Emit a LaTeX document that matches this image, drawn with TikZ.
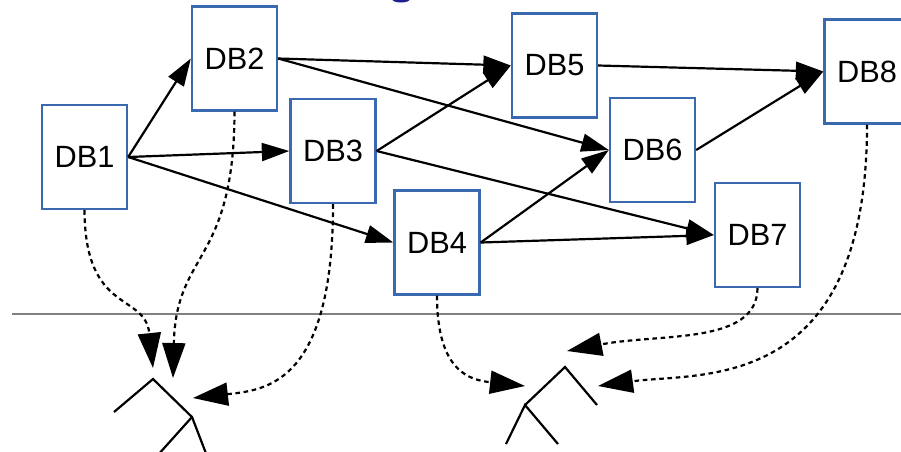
\documentclass[tikz,border=0pt]{standalone}
\usepackage{fontspec}
\setmainfont{Liberation Sans}
\usetikzlibrary{arrows.meta}

\definecolor{boxblue}{RGB}{58,105,176}
\definecolor{titleblue}{RGB}{30,30,140}

\begin{document}
\begin{tikzpicture}[x=0.02cm, y=-0.02cm,
    db/.style={draw=boxblue, line width=1.35pt, fill=white, minimum width=1.7cm,
        minimum height=2.08cm, inner sep=0pt, font=\fontsize{17.5}{21}\selectfont},
    dep/.style={-{Triangle[length=0.55cm, width=0.36cm]}, line width=1.25pt},
    rep/.style={-{Triangle[length=0.7cm, width=0.46cm]}, line width=1.25pt,
        dash pattern=on 2.6pt off 2.1pt},
    tree/.style={line width=1.25pt}]

    \clip (0,0) rectangle (901,451);

    % 标题残留
    \fill[titleblue] (401,-1) ellipse (9 and 3.5);

    % 分隔线
    \draw[gray, line width=0.8pt] (12,314) -- (910,314);

    % 数据库节点
    \node[db] (db1) at (84.5,157) {DB1};
    \node[db] (db2) at (234.5,58.5) {DB2};
    \node[db] (db3) at (333,151) {DB3};
    \node[db] (db4) at (437,242.5) {DB4};
    \node[db] (db5) at (554.5,65.5) {DB5};
    \node[db] (db6) at (652.5,150) {DB6};
    \node[db] (db7) at (757.5,235) {DB7};
    \node[db] (db8) at (867,71.5) {DB8};

    % 依赖关系
    \draw[dep] (db1.east) -- (db2.west);
    \draw[dep] (db1.east) -- (db3.west);
    \draw[dep] (db1.east) -- (db4.west);
    \draw[dep] (db2.east) -- (db5.west);
    \draw[dep] (db2.east) -- (db6.west);
    \draw[dep] (db3.east) -- (db5.west);
    \draw[dep] (db3.east) -- (db7.west);
    \draw[dep] (db4.east) -- (db6.west);
    \draw[dep] (db4.east) -- (db7.west);
    \draw[dep] (db5.east) -- (db8.west);
    \draw[dep] (db6.east) -- (db8.west);

    % 两棵树
    \draw[tree] (114,412) -- (153,379) -- (192,417) -- (207,456);
    \draw[tree] (192,417) -- (157,456);
    \draw[tree] (525,405) -- (565,367) -- (597,405);
    \draw[tree] (506,444) -- (525,405) -- (558,444);

    % 虚线箭头的终点
    \coordinate (t1) at (153,368);
    \coordinate (t2) at (173,378);
    \coordinate (t3) at (193,398);
    \coordinate (t4) at (525,386);
    \coordinate (t5) at (567,351);
    \coordinate (t6) at (598,386);

    \draw[rep] (db1.south) .. controls (85,315) and (145,292) .. (t1);
    \draw[rep] (db2.south) .. controls (234,265) and (176,250) .. (t2);
    \draw[rep] (db3.south) .. controls (333,385) and (265,390) .. (t3);
    \draw[rep] (db4.south) .. controls (437,372) and (470,380) .. (t4);
    \draw[rep] (db7.south) .. controls (757,345) and (660,333) .. (t5);
    \draw[rep] (db8.south) .. controls (867,395) and (700,372) .. (t6);
\end{tikzpicture}
\end{document}
